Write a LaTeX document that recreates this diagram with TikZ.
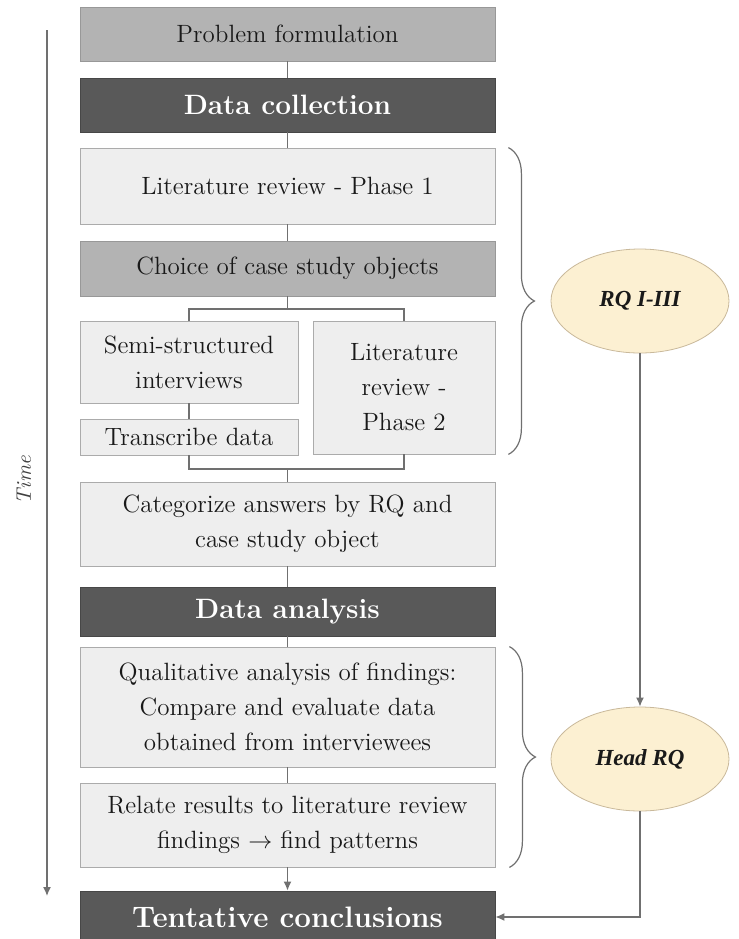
\documentclass[tikz,border=0pt]{standalone}
\usepackage{fontspec}
\newfontfamily\rqfont{Liberation Serif}
\usetikzlibrary{positioning,arrows.meta,shapes.geometric,decorations.pathreplacing,calc}
\definecolor{boxlight}{HTML}{EEEEEE}
\definecolor{boxmid}{HTML}{B3B3B3}
\definecolor{boxdark}{HTML}{595959}
\definecolor{boxline}{HTML}{ABABAB}
\definecolor{linkgray}{HTML}{707070}
\definecolor{rqfill}{HTML}{FCF0D2}
\definecolor{rqline}{HTML}{C9B99B}
\tikzset{
lightnode/.style={rectangle, draw=boxline, fill=boxlight, minimum width=207.5pt, inner sep=2pt,
                  align=center, text=black!90, font=\fontsize{12.5}{17.5}\selectfont},
midnode/.style={lightnode, fill=boxmid, draw=boxmid!85!black},
darknode/.style={rectangle, draw=boxdark!80!black, fill=boxdark, minimum width=207.5pt, inner sep=2pt,
                 text=white, font=\fontsize{14}{17}\selectfont\bfseries},
rqnode/.style={ellipse, draw=rqline, fill=rqfill, minimum width=89pt, minimum height=52pt,
               text=black!90, font=\rqfont\fontsize{11.5}{13}\selectfont\bfseries\itshape},
link/.style={draw=linkgray, line width=0.7pt},
>={Latex[width=4pt,length=4.5pt]},
rqbrace/.style={draw=linkgray, line width=0.6pt, decorate, decoration={brace, amplitude=13pt}}
}
\begin{document}
\begin{tikzpicture}[x=0.5pt, y=-0.5pt]
\useasboundingbox (0,0) rectangle (739,939);

%Process nodes
\node[midnode, minimum height=27pt] (prob) at(287.5,34) {Problem formulation};
\node[darknode, minimum height=27pt] (collect) at(287.5,105) {Data collection};
\node[lightnode, minimum height=38pt] (lit1) at(287.5,186) {Literature review - Phase 1};
\node[midnode, minimum height=27.5pt] (choice) at(287.5,268.5) {Choice of case study objects};
\node[lightnode, minimum width=109pt, minimum height=41pt] (semi) at(189,362) {Semi-structured\\interviews};
\node[lightnode, minimum width=109pt, minimum height=18pt, inner sep=0pt] (transcribe) at(189,437) {Transcribe data};
\node[lightnode, minimum width=91pt, minimum height=66.5pt] (lit2) at(404,387.5) {Literature\\review -\\Phase 2};
\node[lightnode, minimum height=42pt] (categ) at(287.5,524) {Categorize answers by RQ and\\case study object};
\node[darknode, minimum height=24.5pt] (analysis) at(287.5,611.5) {Data analysis};
\node[lightnode, minimum height=60pt] (qual) at(287.5,707) {Qualitative analysis of findings:\\Compare and evaluate data\\obtained from interviewees};
\node[lightnode, minimum height=42pt] (relate) at(287.5,825) {Relate results to literature review\\findings $\rightarrow$ find patterns};
\node[darknode, minimum height=26pt, font=\fontsize{14.8}{17}\selectfont\bfseries] (tent) at(287.5,917) {Tentative conclusions};

%Research questions
\node[rqnode] (rq13) at(640,301) {RQ I-III};
\node[rqnode] (headrq) at(640,759) {Head RQ};

%Time axis
\coordinate (tstart) at(47,30);
\coordinate (tend) at(47,896);
\node[rotate=90, font=\fontsize{10.5}{12}\selectfont\itshape, text=black!75] (time) at(24,480) {Time};
\draw[link, ->] (tstart) -- (tend);

%Split and join
\coordinate (split) at(287.5,309);
\coordinate (join) at(287.5,469);

\draw[link] (prob) -- (collect);
\draw[link] (collect) -- (lit1);
\draw[link] (lit1) -- (choice);
\draw[link] (choice) -- (split);
\draw[link] (semi.north) |- (split) -| (lit2.north);
\draw[link] (semi) -- (transcribe);
\draw[link] (transcribe.south) |- (join) -| (lit2.south);
\draw[link] (join) -- (categ);
\draw[link] (categ) -- (analysis);
\draw[link] (analysis) -- (qual);
\draw[link] (qual) -- (relate);
\draw[link, ->] (relate) -- (tent);

\draw[rqbrace] ([xshift=6.5pt]lit1.north east) -- ([xshift=6.5pt]lit2.south east);
\draw[rqbrace] ([xshift=7pt]qual.north east) -- ([xshift=7pt]relate.south east);

\draw[link, ->] (rq13) -- (headrq);
\draw[link, ->] (headrq) |- (tent);
\end{tikzpicture}
\end{document}
